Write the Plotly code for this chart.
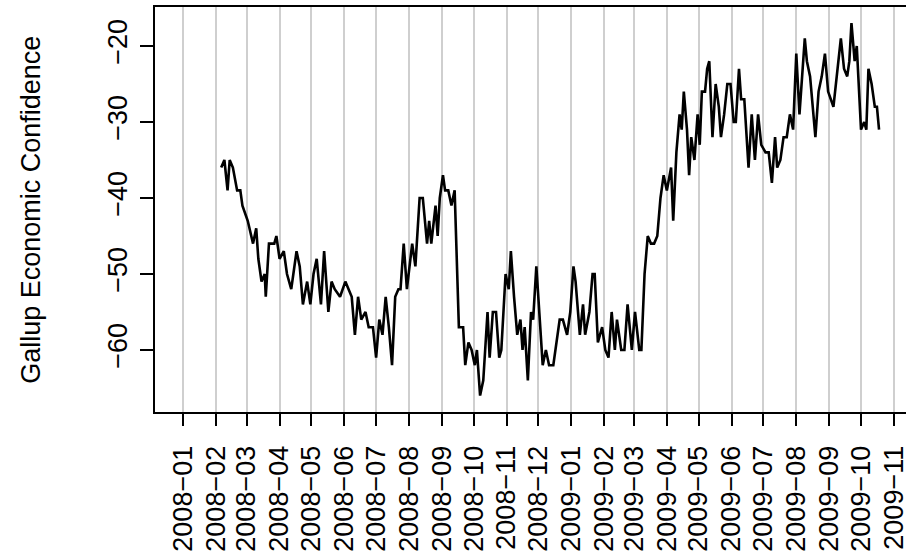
import pandas as pd
import plotly.graph_objects as go

start_date = "2008-01-01"

day_offsets = [36, 39, 42, 44, 47, 51, 54, 56, 61, 66, 69, 71, 74, 77, 78, 81, 86, 88, 91, 95,
               98, 102, 104, 107, 110, 113, 117, 120, 123, 126, 130, 133, 137, 140, 143, 148, 153, 156, 159, 162,
               165, 168, 172, 175, 179, 182, 185, 188, 191, 194, 197, 200, 203, 205, 208, 211, 216, 219, 223, 226,
               230, 232, 234, 238, 240, 242, 245, 247, 250, 253, 256, 260, 264, 266, 269, 272, 275, 277, 280, 283,
               287, 289, 292, 295, 298, 300, 304, 307, 309, 312, 315, 318, 320, 322, 325, 328, 330, 333, 336, 339,
               342, 345, 349, 352, 355, 358, 362, 365, 368, 370, 374, 377, 379, 383, 386, 388, 391, 395, 398, 401,
               404, 407, 409, 413, 416, 419, 423, 426, 430, 432, 435, 438, 441, 444, 447, 450, 453, 456, 460, 462,
               465, 468, 470, 472, 475, 477, 479, 482, 485, 487, 489, 492, 494, 496, 497, 499, 502, 505, 507, 510,
               513, 516, 519, 521, 524, 526, 529, 533, 536, 539, 542, 545, 549, 552, 555, 558, 560, 563, 566, 569,
               572, 575, 578, 581, 586, 588, 591, 596, 599, 602, 605, 608, 613, 616, 620, 623, 626, 628, 630, 633,
               635, 639, 642, 644, 646, 649, 652, 654, 656]

confidence = [-36, -35, -39, -35, -36, -39, -39, -41, -43, -46, -44, -48, -51, -50, -53, -46, -46, -45, -48, -47,
              -50, -52, -50, -47, -49, -54, -51, -54, -50, -48, -54, -47, -55, -51, -52, -53, -51, -52, -53, -58,
              -53, -56, -55, -57, -57, -61, -56, -58, -53, -57, -62, -53, -52, -52, -46, -52, -46, -49, -40, -40,
              -46, -43, -46, -41, -45, -40, -37, -39, -39, -41, -39, -57, -57, -62, -59, -60, -62, -60, -66, -64,
              -55, -61, -55, -55, -61, -60, -50, -52, -47, -53, -58, -56, -60, -57, -64, -55, -56, -49, -56, -62,
              -60, -62, -62, -59, -56, -56, -58, -55, -49, -51, -58, -54, -58, -55, -50, -50, -59, -57, -60, -61,
              -55, -60, -56, -60, -60, -54, -60, -55, -60, -60, -50, -45, -46, -46, -45, -40, -37, -39, -36, -43,
              -34, -29, -31, -26, -31, -37, -32, -35, -29, -33, -26, -26, -23, -22, -26, -32, -25, -28, -32, -29,
              -25, -25, -30, -30, -23, -27, -27, -36, -29, -35, -29, -33, -34, -34, -38, -32, -36, -35, -32, -32,
              -29, -31, -21, -29, -19, -22, -24, -32, -26, -24, -21, -26, -28, -24, -19, -23, -24, -22, -17, -22,
              -20, -31, -30, -31, -23, -25, -28, -28, -31]

month_ticks = ["2008-01", "2008-02", "2008-03", "2008-04", "2008-05", "2008-06", "2008-07", "2008-08",
               "2008-09", "2008-10", "2008-11", "2008-12", "2009-01", "2009-02", "2009-03", "2009-04",
               "2009-05", "2009-06", "2009-07", "2009-08", "2009-09", "2009-10", "2009-11"]

y_ticks = [-60, -50, -40, -30, -20]
y_title = "Gallup Economic Confidence"

dates = pd.Timestamp(start_date) + pd.to_timedelta(day_offsets, unit="D")

FONT = "Liberation Sans, Arial, Helvetica, sans-serif"
FS = 27

fig = go.Figure(
    go.Scatter(x=dates, y=confidence, mode="lines",
               line=dict(color="black", width=2.6), hoverinfo="skip")
)

fig.update_layout(
    width=906, height=555,
    margin=dict(l=155, r=0, t=7, b=143),
    plot_bgcolor="white", paper_bgcolor="white",
    showlegend=False,
    font=dict(family=FONT, size=FS, color="black"),
)

fig.update_xaxes(
    type="date",
    range=["2007-12-05 14:24", "2009-11-12 09:36"],
    tickvals=[m + "-01" for m in month_ticks],
    ticktext=[m.replace("-", "\u2212") for m in month_ticks],
    tickangle=-90,
    ticks="outside", ticklen=12, tickwidth=2, tickcolor="black",
    ticklabelstandoff=9, ticklabeloverflow="allow",
    showgrid=True, gridcolor="#cfcfcf", gridwidth=2,
    showline=True, linecolor="black", linewidth=2, mirror=True,
    zeroline=False, automargin=False,
    tickfont=dict(family=FONT, size=FS, color="black"),
)

fig.update_yaxes(
    range=[-68.16, -14.87],
    tickvals=y_ticks,
    tickangle=-90,
    ticks="outside", ticklen=13, tickwidth=2, tickcolor="black",
    ticklabelstandoff=2,
    showgrid=False,
    showline=True, linecolor="black", linewidth=2, mirror=False,
    zeroline=False, automargin=False,
    tickfont=dict(family=FONT, size=FS, color="black"),
)

fig.add_annotation(
    text=y_title, xref="paper", yref="paper",
    x=-0.166, y=0.5, xanchor="center", yanchor="middle",
    textangle=-90, showarrow=False,
    font=dict(family=FONT, size=FS, color="black"),
)

fig.write_html(
    "out.html",
    config={"displayModeBar": False, "staticPlot": True},
    post_script="document.body.style.margin='0px';document.body.style.overflow='hidden';",
)
